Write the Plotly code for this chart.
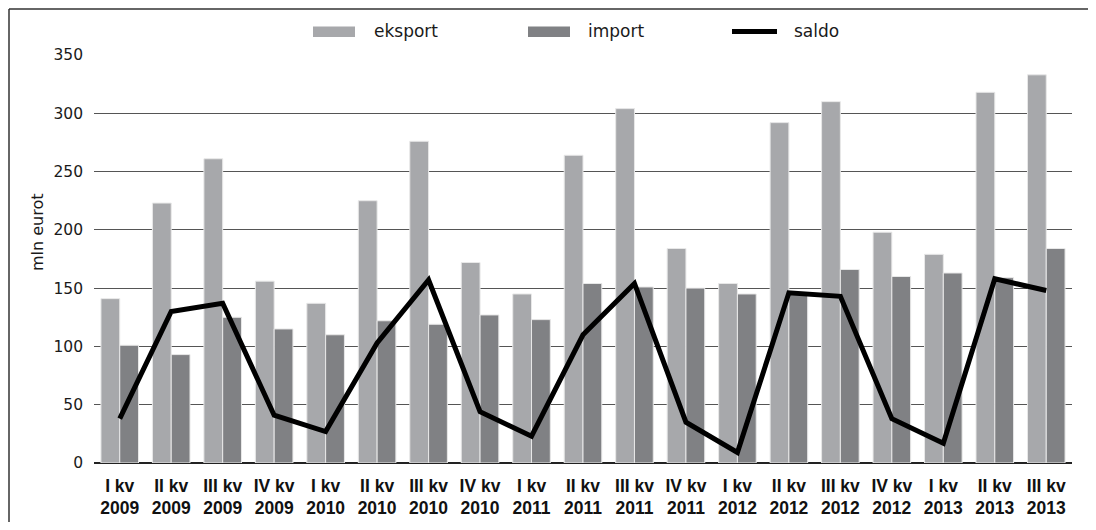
import plotly.graph_objects as go

categories = ["I kv<br>2009", "II kv<br>2009", "III kv<br>2009", "IV kv<br>2009",
              "I kv<br>2010", "II kv<br>2010", "III kv<br>2010", "IV kv<br>2010",
              "I kv<br>2011", "II kv<br>2011", "III kv<br>2011", "IV kv<br>2011",
              "I kv<br>2012", "II kv<br>2012", "III kv<br>2012", "IV kv<br>2012",
              "I kv<br>2013", "II kv<br>2013", "III kv<br>2013"]
eksport = [141, 223, 261, 156, 137, 225, 276, 172, 145, 264, 304, 184, 154, 292, 310, 198, 179, 318, 333]
importv = [101, 93, 125, 115, 110, 122, 119, 127, 123, 154, 151, 150, 145, 146, 166, 160, 163, 159, 184]
saldo = [38, 130, 137, 41, 27, 103, 157, 44, 23, 110, 154, 35, 9, 146, 143, 38, 17, 158, 148]
y_ticks = [0, 50, 100, 150, 200, 250, 300, 350]

# page size; the html body has an 8px margin on every side
W, H = 1096, 530
OFF = 8
FW, FH = W - 2 * OFF, H - 2 * OFF   # figure fits inside the page without scrolling
# plot area in page pixels
L, R, T, B = 94, 1072, 55, 463

def px(x):
    return (x - L) / (R - L)

def py(y):
    return (B - y) / (B - T)

C_EKS = "#a7a8ab"
C_IMP = "#808184"
FONT = "Liberation Sans, Arial, sans-serif"
FONT2 = "DejaVu Sans, sans-serif"

fig = go.Figure()
fig.add_trace(go.Bar(x=categories, y=eksport, name="eksport",
                     marker=dict(color=C_EKS, line=dict(color="#e8e8e8", width=1))))
fig.add_trace(go.Bar(x=categories, y=importv, name="import",
                     marker=dict(color=C_IMP, line=dict(color="#e8e8e8", width=1))))
fig.add_trace(go.Scatter(x=categories, y=saldo, name="saldo", mode="lines",
                         line=dict(color="black", width=5)))

shapes = [
    dict(type="line", xref="paper", yref="paper", x0=px(9), x1=px(1100), y0=py(9), y1=py(9),
         line=dict(color="#333333", width=1.5), layer="above"),
    dict(type="line", xref="paper", yref="paper", x0=px(9), x1=px(9), y0=py(9), y1=py(540),
         line=dict(color="#333333", width=1.5), layer="above"),
    dict(type="rect", xref="paper", yref="paper", x0=px(313), x1=px(355), y0=py(37), y1=py(26.5),
         line=dict(width=0), fillcolor=C_EKS),
    dict(type="rect", xref="paper", yref="paper", x0=px(528), x1=px(570), y0=py(37), y1=py(26.5),
         line=dict(width=0), fillcolor=C_IMP),
    dict(type="line", xref="paper", yref="paper", x0=px(732), x1=px(777), y0=py(31.5), y1=py(31.5),
         line=dict(color="black", width=5)),
]
lfont = dict(family=FONT2, size=17, color="#1a1a1a")
annotations = [
    dict(text="eksport", xref="paper", yref="paper", x=px(372), y=py(31), xanchor="left", yanchor="middle",
         showarrow=False, font=lfont),
    dict(text="import", xref="paper", yref="paper", x=px(586), y=py(31), xanchor="left", yanchor="middle",
         showarrow=False, font=lfont),
    dict(text="saldo", xref="paper", yref="paper", x=px(792), y=py(31), xanchor="left", yanchor="middle",
         showarrow=False, font=lfont),
    dict(text="mln eurot", xref="paper", yref="paper", x=px(37), y=py(232), textangle=-90,
         xanchor="center", yanchor="middle", showarrow=False,
         font=dict(family=FONT2, size=16, color="#1a1a1a")),
]

fig.update_layout(
    width=FW, height=FH,
    margin=dict(l=L - OFF, r=FW + OFF - R, t=T - OFF, b=FH + OFF - B, pad=0),
    paper_bgcolor="white", plot_bgcolor="white",
    barmode="group", bargap=0.27, bargroupgap=0,
    showlegend=False,
    shapes=shapes, annotations=annotations,
    font=dict(family=FONT, color="#1a1a1a"),
)
fig.update_yaxes(range=[0, 350], tickvals=y_ticks, showgrid=True, gridcolor="#555555", gridwidth=1,
                 zeroline=True, zerolinecolor="#222222", zerolinewidth=1.5, automargin=False,
                 ticks="", ticklabelstandoff=10, tickfont=dict(family=FONT2, size=15.5, color="#1a1a1a"),
                 showline=False)
fig.update_xaxes(showgrid=False, ticks="", showline=False, ticklabelstandoff=10, automargin=False,
                 tickfont=dict(family=FONT, size=17.5, color="#111111", weight="bold"), tickangle=0)

fig.write_html("out.html")
